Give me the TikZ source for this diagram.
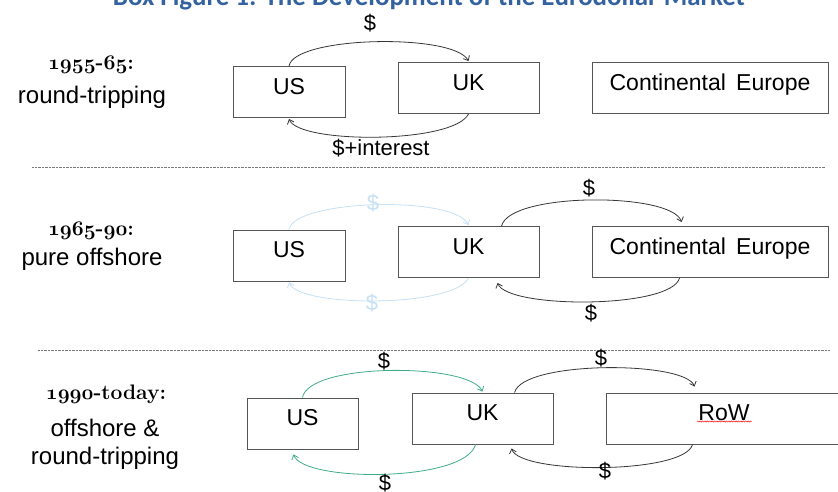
\documentclass[tikz,border=0pt]{standalone}
\usepackage{fontspec}
\newfontfamily\sansf{Liberation Sans}
\newfontfamily\titlef{Carlito}
\usetikzlibrary{arrows.meta,decorations.pathmorphing}
\definecolor{titleblue}{RGB}{52,98,160}
\definecolor{boxgray}{RGB}{85,85,85}
\definecolor{arcgray}{RGB}{55,55,55}
\definecolor{fadeblue}{RGB}{198,224,245}
\definecolor{flowgreen}{RGB}{64,172,138}
\definecolor{sepgray}{RGB}{120,120,120}
\newcommand\osfnum[1]{{\usefont{OML}{cmm}{b}{it}#1}}
\begin{document}
\begin{tikzpicture}[x=1pt,y=-1pt,
  box/.style={draw=boxgray,line width=0.9pt,minimum height=51pt,inner sep=0pt,
    font=\sansf\fontsize{23}{27}\selectfont,text height=16.5pt,text depth=12pt},
  flow/.style={draw=arcgray,line width=0.8pt,-{Straight Barb[length=4pt,width=7pt]}},
  greenflow/.style={flow,draw=flowgreen},
  fadeflow/.style={flow,draw=fadeblue},
  money/.style={font=\sansf\fontsize{22}{26}\selectfont,inner sep=0pt},
  period/.style={font=\bfseries\fontsize{21}{25}\selectfont,inner sep=0pt,anchor=base},
  caption/.style={font=\sansf\fontsize{24}{28}\selectfont,inner sep=0pt,anchor=base},
  sep/.style={draw=sepgray,line width=0.7pt,dash pattern=on 0.7pt off 0.7pt}
]
\useasboundingbox (0,0) rectangle (838,491);
\clip (0,0) rectangle (838,491);
\fill[white] (0,0) rectangle (838,491);

% title (cut at top)
\node[anchor=base,text=titleblue,inner sep=0pt] (title) at (429,5)
  {\resizebox{632pt}{!}{\titlef\bfseries Box Figure 1: The Development of the Eurodollar Market}};

% separators
\coordinate (s1a) at (32,167.5);
\coordinate (s1b) at (825,167.5);
\coordinate (s2a) at (38,350);
\coordinate (s2b) at (830,350);
\draw[sep] (s1a) -- (s1b);
\draw[sep] (s2a) -- (s2b);

% ---------- row 1 ----------
\node[period] (y1) at (91,69) {\osfnum{1955}-\osfnum{65}:};
\node[caption] (c1) at (92,103) {round-tripping};
\node[box,minimum width=112pt] (us1) at (289,92) {US};
\node[box,minimum width=141pt] (uk1) at (468.5,88) {UK};
\node[box,minimum width=236pt] (ce1) at (710,88) {Continental\, Europe};
\draw[flow] (us1.north) .. controls +(5,-30) and +(-15,-28) .. ([yshift=1pt]uk1.north);
\draw[flow] (uk1.south) .. controls +(-15,30) and +(10,25) .. ([yshift=-1pt]us1.south);
\node[money] (m1a) at (370,23) {\$};
\node[money] (m1b) at (381,148) {\$+interest};

% ---------- row 2 ----------
\node[period] (y2) at (91,235) {\osfnum{1965}-\osfnum{90}:};
\node[caption] (c2) at (92,265) {pure offshore};
\node[box,minimum width=112pt] (us2) at (289,255.5) {US};
\node[box,minimum width=141pt] (uk2) at (468.5,252) {UK};
\node[box,minimum width=236pt] (ce2) at (710,252) {Continental\, Europe};
\draw[fadeflow] (us2.north) .. controls +(5,-30) and +(-15,-30) .. ([yshift=1pt]uk2.north);
\draw[fadeflow] (uk2.south) .. controls +(-15,30) and +(10,25) .. ([yshift=-1pt]us2.south);
\node[money,text=fadeblue] (m2c) at (373,203) {\$};
\node[money,text=fadeblue] (m2d) at (372,303) {\$};
\draw[flow] ([xshift=104pt]uk2.north west) .. controls +(8,-34) and +(-10,-30) .. ([xshift=90pt,yshift=4pt]ce2.north west);
\draw[flow] ([xshift=88pt]ce2.south west) .. controls +(-8,31) and +(10,26) .. ([xshift=100pt,yshift=-5pt]uk2.south west);
\node[money] (m2a) at (589,188) {\$};
\node[money] (m2b) at (591,313) {\$};

% ---------- row 3 ----------
\node[period] (y3) at (106,399) {\osfnum{1990}-today:};
\node[caption] (c3a) at (105,436) {offshore \&};
\node[caption] (c3b) at (105,464) {round-tripping};
\node[box,minimum width=111pt] (us3) at (302.5,423.5) {US};
\node[box,minimum width=141pt] (uk3) at (482.5,418.5) {UK};
\node[box,minimum width=236pt] (row3) at (724,418.5) {RoW};
\draw[red,line width=0.45pt,decorate,decoration={snake,amplitude=0.6pt,segment length=2.4pt}]
  (697,421.5) -- (752,421.5);
\draw[greenflow] (us3.north) .. controls +(6,-35) and +(-14,-29) .. ([yshift=1pt]uk3.north);
\draw[greenflow] ([xshift=64pt]uk3.south west) .. controls +(-10,38) and +(10,28) .. ([xshift=47pt,yshift=-5pt]us3.south west);
\draw[flow] ([xshift=103pt]uk3.north west) .. controls +(8,-32) and +(-10,-26) .. ([xshift=89pt,yshift=6pt]row3.north west);
\draw[flow] ([xshift=87pt]row3.south west) .. controls +(-8,30) and +(8,26) .. ([xshift=100pt,yshift=-4pt]uk3.south west);
\node[money] (m3a) at (384,361) {\$};
\node[money] (m3b) at (385,483) {\$};
\node[money] (m3c) at (601,358) {\$};
\node[money] (m3d) at (605,471) {\$};
\end{tikzpicture}
\end{document}
